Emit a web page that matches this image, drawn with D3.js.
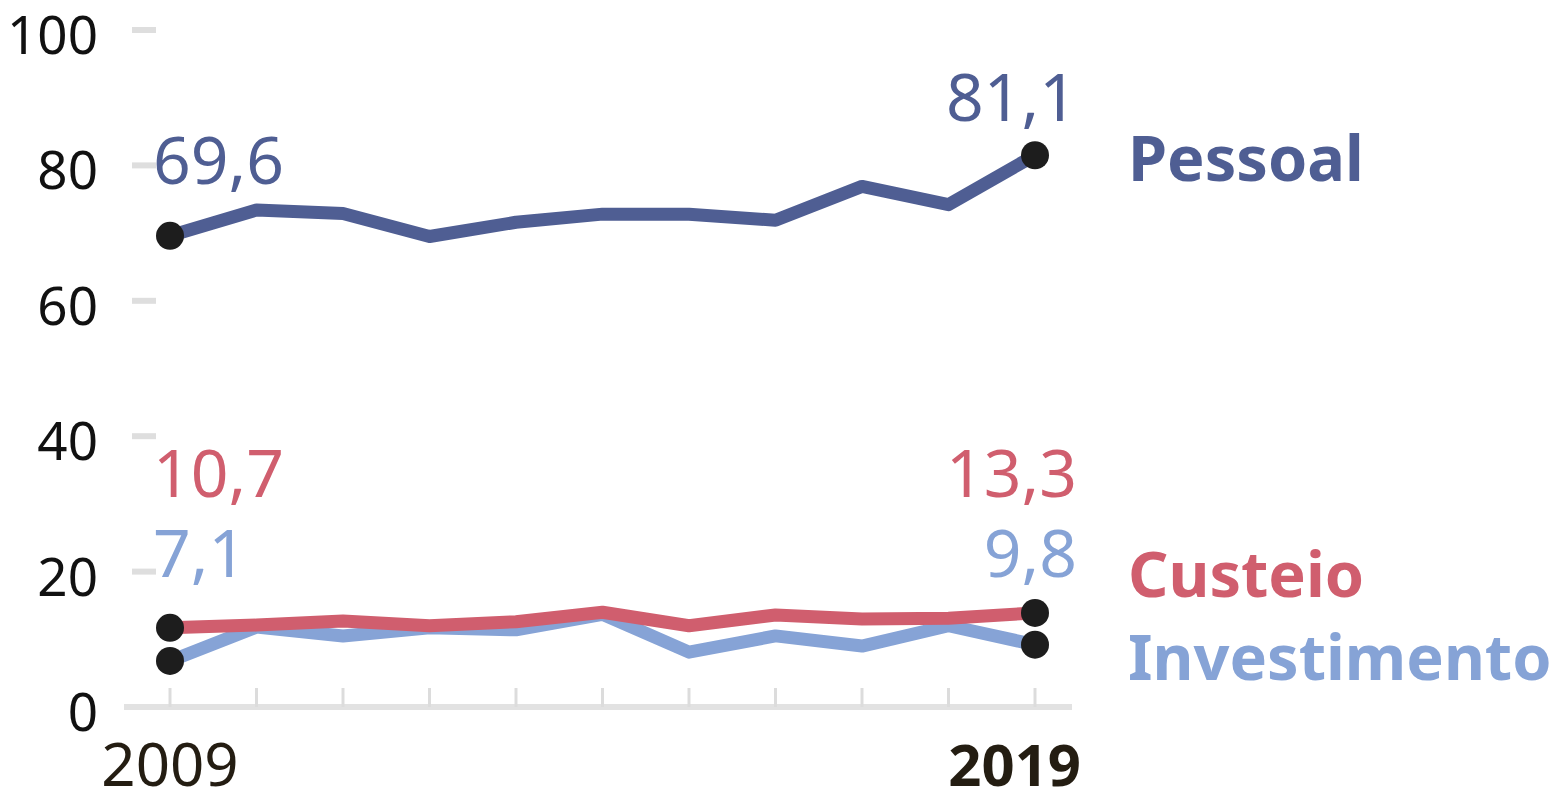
<!DOCTYPE html>
<html>
<head>
<meta charset="utf-8">
<script src="https://cdn.jsdelivr.net/npm/d3@7/dist/d3.min.js"></script>
<style>
    body { margin: 0; background: #fff; }
    svg { display: block; font-family: "Noto Sans", "Open Sans", sans-serif; }
</style>
</head>
<body>
<div id="chart"></div>
<script>
// Data (percent of spending)
const years = [2009, 2010, 2011, 2012, 2013, 2014, 2015, 2016, 2017, 2018, 2019];
const pessoal = [69.6, 73.4, 72.9, 69.5, 71.6, 72.8, 72.8, 71.9, 76.9, 74.2, 81.5];
const custeio = [11.7, 12.1, 12.7, 12.0, 12.6, 14.0, 12.0, 13.6, 13.0, 13.1, 13.9];
const investimento = [6.8, 11.8, 10.5, 11.7, 11.4, 13.7, 8.1, 10.5, 9.0, 12.0, 9.2];
const yTicks = [0, 20, 40, 60, 80, 100];
const seriesNames = ['Pessoal', 'Custeio', 'Investimento'];
const firstLabels = ['69,6', '10,7', '7,1'];
const lastLabels = ['81,1', '13,3', '9,8'];

// Build series (draw order: pessoal, investimento, custeio on top)
const series = [
    {name: seriesNames[0], values: pessoal, first: firstLabels[0], last: lastLabels[0], color: '#4f5e93', firstDy: -52, lastDy: -34, legendDy: 26},
    {name: seriesNames[2], values: investimento, first: firstLabels[2], last: lastLabels[2], color: '#86a3d6', firstDy: -84, lastDy: -68, legendDy: 35},
    {name: seriesNames[1], values: custeio, first: firstLabels[1], last: lastLabels[1], color: '#d05e6e', firstDy: -131, lastDy: -116, legendDy: -16}
];

const W = 1558, H = 794;
const svg = d3.select('#chart').append('svg')
    .attr('width', W)
    .attr('height', H);

const x = d3.scalePoint()
    .domain(years)
    .range([170, 1035]);

const y = d3.scaleLinear()
    .domain([0, 100])
    .range([707, 30]);

// Y ticks: short grey dashes + labels
const yAxis = svg.append('g');
yAxis.selectAll('line')
    .data(yTicks.filter(d => d > 0))
    .enter().append('line')
    .attr('x1', 132)
    .attr('x2', 156)
    .attr('y1', d => y(d))
    .attr('y2', d => y(d))
    .style('stroke', '#dedede')
    .style('stroke-width', 6);

yAxis.selectAll('text')
    .data(yTicks)
    .enter().append('text')
    .attr('x', 98)
    .attr('y', d => y(d) + 5)
    .attr('dy', '0.36em')
    .style('text-anchor', 'end')
    .style('font-size', '53px')
    .style('fill', '#111')
    .text(d => d);

// Baseline and year ticks
svg.append('line')
    .attr('x1', 124)
    .attr('x2', 1072)
    .attr('y1', y(0))
    .attr('y2', y(0))
    .style('stroke', '#e2e2e2')
    .style('stroke-width', 6);

svg.append('g').selectAll('line')
    .data(years)
    .enter().append('line')
    .attr('x1', d => x(d))
    .attr('x2', d => x(d))
    .attr('y1', y(0) - 19)
    .attr('y2', y(0))
    .style('stroke', '#dcdcdc')
    .style('stroke-width', 3);

// Year labels
svg.append('text')
    .attr('x', x(years[0]))
    .attr('y', 786)
    .style('text-anchor', 'middle')
    .style('font-size', '60px')
    .style('fill', '#241d12')
    .text(years[0]);

svg.append('text')
    .attr('x', x(years[years.length - 1]) + 46)
    .attr('y', 786)
    .style('text-anchor', 'end')
    .style('font-size', '58px')
    .style('font-weight', 'bold')
    .style('fill', '#241d12')
    .text(years[years.length - 1]);

// Lines
const line = d3.line()
    .x((d, i) => x(years[i]))
    .y(d => y(d));

series.forEach(s => {
    svg.append('path')
        .datum(s.values)
        .attr('d', line)
        .style('fill', 'none')
        .style('stroke', s.color)
        .style('stroke-width', 13)
        .style('stroke-linejoin', 'round');
});

// End dots, value labels and legend
series.forEach(s => {
    const n = s.values.length;
    [0, n - 1].forEach(i => {
        svg.append('circle')
            .attr('cx', x(years[i]))
            .attr('cy', y(s.values[i]))
            .attr('r', 14)
            .style('fill', '#1d1d1d');
    });

    svg.append('text')
        .attr('x', x(years[0]) - 17)
        .attr('y', y(s.values[0]) + s.firstDy)
        .style('font-size', '66px')
        .style('fill', s.color)
        .text(s.first);

    svg.append('text')
        .attr('x', x(years[n - 1]) + 42)
        .attr('y', y(s.values[n - 1]) + s.lastDy)
        .style('text-anchor', 'end')
        .style('font-size', '66px')
        .style('fill', s.color)
        .text(s.last);

    svg.append('text')
        .attr('x', 1128)
        .attr('y', y(s.values[n - 1]) + s.legendDy)
        .style('font-size', '63px')
        .style('font-weight', 'bold')
        .style('fill', s.color)
        .text(s.name);
});
</script>
</body>
</html>
